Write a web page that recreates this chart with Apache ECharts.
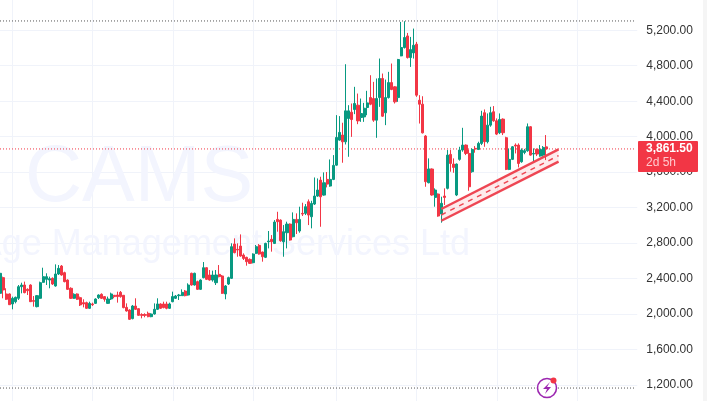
<!DOCTYPE html>
<html>
<head>
<meta charset="utf-8">
<style>html,body{margin:0;padding:0;background:#fff}#c{width:713px;height:401px}</style>
<script src="https://cdn.jsdelivr.net/npm/echarts@6/dist/echarts.min.js"></script>
</head>
<body>
<div id="c"></div>
<script>
// [open, close, low, high] for each session
const ohlc = [
[2233,2459,2233,2504],[2410,2271,2177,2421],[2226,2166,2158,2290],[2226,2105,2102,2232],[2113,2177,2053,2196],
[2139,2188,2120,2196],[2177,2308,2158,2327],[2308,2327,2233,2353],[2327,2241,2233,2365],[2278,2263,2214,2290],
[2327,2139,2135,2335],[2151,2143,2083,2203],[2083,2207,2075,2214],[2177,2353,2169,2365],[2357,2421,2353,2522],
[2391,2421,2327,2459],[2383,2398,2290,2421],[2402,2338,2327,2413],[2316,2451,2308,2560],[2451,2515,2440,2552],
[2541,2440,2432,2552],[2466,2365,2357,2477],[2383,2278,2271,2391],[2290,2177,2169,2301],[2177,2222,2169,2233],
[2226,2166,2158,2233],[2184,2102,2090,2196],[2128,2113,2075,2166],[2128,2064,2057,2139],[2064,2120,2057,2139],
[2113,2105,2090,2128],[2120,2169,2113,2177],[2184,2214,2169,2222],[2222,2177,2169,2233],[2196,2166,2139,2203],
[2120,2169,2113,2196],[2169,2226,2158,2241],[2211,2196,2177,2214],[2214,2196,2128,2252],[2244,2196,2184,2259],
[2211,2072,2064,2214],[2075,2034,2027,2120],[2045,1940,1933,2053],[1948,2090,1940,2102],[2090,2053,2045,2177],
[2060,1985,1978,2064],[1993,1985,1951,2008],[1993,1985,1963,2008],[2008,1970,1963,2027],[1970,2000,1963,2008],
[2000,2053,1993,2120],[2053,2113,2045,2177],[2113,2064,2057,2120],[2113,2072,2064,2139],[2113,2064,2053,2139],
[2064,2113,2057,2128],[2139,2196,2132,2252],[2177,2203,2169,2214],[2207,2214,2158,2226],[2207,2244,2203,2278],
[2259,2207,2199,2271],[2214,2327,2207,2346],[2459,2327,2320,2466],[2327,2459,2320,2466],[2365,2278,2271,2376],
[2278,2383,2271,2391],[2410,2522,2402,2586],[2522,2391,2383,2526],[2440,2383,2376,2496],[2383,2440,2365,2489],
[2353,2440,2327,2496],[2447,2421,2413,2552],[2429,2233,2226,2440],[2226,2316,2166,2327],[2338,2410,2327,2421],
[2402,2759,2395,2797],[2789,2692,2684,2853],[2729,2722,2646,2797],[2766,2654,2646,2898],[2665,2627,2609,2684],
[2639,2590,2545,2646],[2616,2571,2564,2627],[2579,2676,2571,2684],[2684,2759,2676,2778],[2774,2676,2669,2789],
[2699,2646,2590,2703],[2639,2796,2631,2804],[2815,2823,2740,2936],[2842,2815,2703,2890],[2796,3037,2789,3059],
[3067,3041,2928,3153],[3059,2827,2815,3067],[2815,2928,2646,3003],[2917,3014,2740,3041],[3014,2834,2827,3022],
[2872,3067,2864,3146],[3067,3029,2902,3135],[2936,3067,2917,3210],[3135,3127,3105,3255],[3135,3210,3116,3240],
[3266,3116,3003,3292],[3097,3247,2966,3277],[3240,3330,3229,3540],[3330,3398,3322,3529],[3510,3322,2984,3548],
[3341,3480,3334,3597],[3518,3465,3428,3601],[3443,3518,3435,3743],[3518,3676,3510,3792],[3679,3991,3672,4243],
[3961,4048,3954,4232],[4018,3942,3706,4157],[3942,4291,3912,4817],[4205,4291,3773,4355],[4276,4193,3998,4374],
[4306,4374,4254,4562],[4355,4178,4141,4486],[4216,4261,4167,4430],[4223,4321,4167,4381],[4329,4381,4242,4517],
[4441,4366,4355,4693],[4430,4186,4167,4618],[4186,4430,3987,4656],[4441,4656,4336,4881],[4656,4231,4223,4712],
[4269,4441,4130,4644],[4441,4610,4430,4731],[4610,4532,4524,4825],[4562,4393,4374,4569],[4441,4870,4393,4877],
[4911,5005,4907,5294],[5005,5118,4994,5302],[5136,4892,4881,5170],[4892,4982,4787,5125],[4945,5031,4881,5219],
[5043,4468,4449,5069],[4411,4366,4148,4468],[4366,4043,4036,4456],[4007,3492,3435,4018],[3481,3635,3473,3755],
[3635,3342,3334,3642],[3315,3398,3210,3417],[3353,3105,3097,3360],[3127,3248,3030,3323],[3330,3315,3229,3417],
[3417,3792,3405,3849],[3800,3698,3605,3849],[3691,3653,3593,3755],[3342,3691,3330,3698],[3744,3849,3729,3886],
[3849,3905,3830,4100],[3905,3811,3792,3912],[3811,3435,3390,3856],[3605,3856,3593,3868],[3868,3860,3819,3894],
[3856,3924,3849,3943],[3924,4232,3905,4292],[4270,3943,3886,4307],[3943,4130,3924,4262],[4130,4270,4112,4337],
[4281,4179,4168,4345],[4179,4029,4018,4206],[4044,4194,4029,4262],[4198,4044,4018,4206],[3988,3631,3623,3999],
[3631,3744,3623,3868],[3744,3886,3736,3894],[3905,3894,3811,3924],[3905,3698,3653,3924],[3717,3849,3706,3868],
[3822,3842,3802,3862],[3841,4112,3830,4149],[4112,3792,3785,4119],[3804,3811,3717,3868],[3856,3804,3781,3868],
[3781,3856,3774,3905],[3792,3879,3774,3894],[3885,3861.5,3736,4018]
];
const sessionCount = 207;                 // chart has empty room right of the last candle
const categories = Array.from({length: sessionCount}, (_, i) => String(i));
const gridMonths = [4, 30, 56, 82, 109, 135, 161, 187];
const lastPrice = 3861.5;
const highLine = 5305;
const lowLine = 1165;
const channelTop = [[143, 3184], [181, 3856]];
const channelMid = [[143, 3117], [181, 3786]];
const channelBottom = [[143, 3052], [181, 3718]];

const UP = '#089981', DOWN = '#F23645', GRID = '#f0f3fa', TEXT = '#333';
const lastIdx = sessionCount - 1;

const chart = echarts.init(document.getElementById('c'), null, {renderer: 'canvas'});
const lineSeries = (d, extra) => Object.assign({
  type: 'line', data: d, symbol: 'none', silent: true, z: 5, animation: false,
  lineStyle: {color: '#ee4653', width: 2.4}
}, extra || {});
const levelLine = (v, color) => lineSeries([[0, v], [lastIdx, v]],
  {z: 2, lineStyle: {color, width: 1, type: [1, 2]}});

chart.setOption({
  animation: false,
  grid: {left: -1.54, top: -5.2, width: 638.8, height: 425.6, containLabel: false, outerBoundsMode: 'none'},
  xAxis: {
    type: 'category', data: categories, boundaryGap: true,
    axisLine: {show: false}, axisTick: {show: false}, axisLabel: {show: false},
    splitLine: {show: true, alignWithLabel: true, interval: i => gridMonths.includes(i),
                lineStyle: {color: GRID, width: 1}}
  },
  yAxis: {
    type: 'value', position: 'right', min: 800, max: 5600, interval: 400,
    axisLine: {show: false}, axisTick: {show: false},
    axisLabel: {margin: 9, color: TEXT, fontFamily: 'Liberation Sans', fontSize: 12,
      formatter: v => v.toLocaleString('en-US', {minimumFractionDigits: 2, maximumFractionDigits: 2})},
    splitLine: {lineStyle: {color: GRID, width: 1}}
  },
  series: [
    levelLine(lastPrice, DOWN),
    levelLine(highLine, '#555'),
    levelLine(lowLine, '#555'),
    {
      type: 'candlestick', data: ohlc, barWidth: 2.6, z: 3,
      itemStyle: {color: UP, color0: DOWN, borderColor: UP, borderColor0: DOWN, borderWidth: 1}
    },
    {
      type: 'custom', silent: true, z: 4,
      data: [[channelTop[0][0], channelTop[0][1], channelTop[1][0], channelTop[1][1],
              channelBottom[1][0], channelBottom[1][1], channelBottom[0][0], channelBottom[0][1]]],
      encode: {x: 0, y: 1},
      renderItem: (params, api) => ({
        type: 'polygon',
        shape: {points: [
          api.coord([api.value(0), api.value(1)]), api.coord([api.value(2), api.value(3)]),
          api.coord([api.value(4), api.value(5)]), api.coord([api.value(6), api.value(7)])
        ]},
        style: {fill: 'rgba(242,54,69,0.10)'}
      })
    },
    lineSeries(channelTop),
    lineSeries(channelBottom),
    lineSeries(channelMid, {lineStyle: {color: '#ee4653', width: 1.5, type: [5, 5]}})
  ],
  graphic: [
    {type: 'text', z: 1, x: 25, y: 219, style: {text: 'CAMS', fill: '#f3f5fe',
      font: '79px "Liberation Sans"', textVerticalAlign: 'bottom'}, silent: true},
    {type: 'text', z: 1, x: 470, y: 263, style: {text: 'Computer Age Management Services Ltd', fill: '#f3f5fe',
      font: '36px "Liberation Sans"', textAlign: 'right', textVerticalAlign: 'bottom'}, silent: true},
    {type: 'rect', z: 90, shape: {x: 703, y: 0, width: 4, height: 401}, style: {fill: '#f5f5f5'}, silent: true},
    {type: 'rect', z: 100, shape: {x: 638, y: 141, width: 60, height: 31, r: 1}, style: {fill: '#F23645'}, silent: true},
    {type: 'text', z: 101, x: 646, y: 149, style: {text: '3,861.50', fill: '#fff',
      font: 'bold 12px "Liberation Sans"', textVerticalAlign: 'middle'}, silent: true},
    {type: 'text', z: 101, x: 646, y: 163, style: {text: '2d 5h', fill: '#ffc9cd',
      font: '12px "Liberation Sans"', textVerticalAlign: 'middle'}, silent: true},
    {type: 'circle', z: 100, shape: {cx: 547, cy: 388, r: 9.5}, style: {fill: '#fff', stroke: '#9c27b0', lineWidth: 1.6}, silent: true},
    {type: 'polygon', z: 101, shape: {points: [[550,382],[543,389],[547,389],[545,394],[551,387],[547,387]]},
      style: {fill: '#9c27b0'}, silent: true},
    {type: 'circle', z: 102, shape: {cx: 553.5, cy: 380.5, r: 3}, style: {fill: '#F23645'}, silent: true}
  ]
});
</script>
</body>
</html>
